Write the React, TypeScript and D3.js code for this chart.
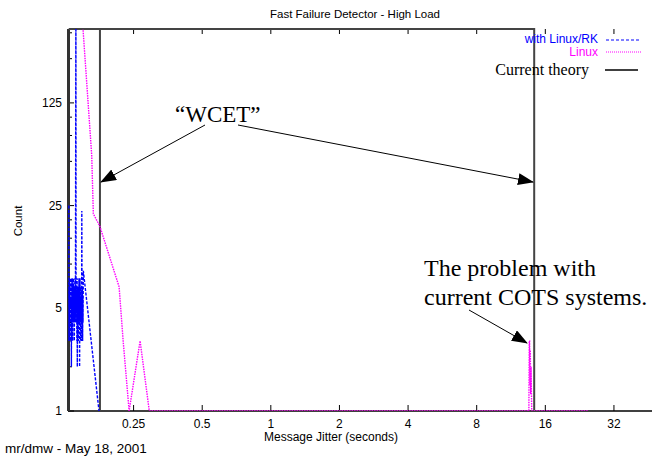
import * as d3 from 'd3';

// Linux/RK histogram (x = jitter in seconds, y = count)
const rkX = [0.1300, 0.1302, 0.1304, 0.1306, 0.1309, 0.1311, 0.1313, 0.1316, 0.1318, 0.1320, 0.1323, 0.1325, 0.1327, 0.1330, 0.1332, 0.1334, 0.1337, 0.1339, 0.1341, 0.1344, 0.1346, 0.1348, 0.1351, 0.1353, 0.1355, 0.1358, 0.1360, 0.1362, 0.1365, 0.1367, 0.1369, 0.1372, 0.1374, 0.1377, 0.1380, 0.1383, 0.1386, 0.1390, 0.1396, 0.1398, 0.1401, 0.1404, 0.1407, 0.1410, 0.1413, 0.1416, 0.1419, 0.1422, 0.1425, 0.1428, 0.1431, 0.1434, 0.1437, 0.1440, 0.1443, 0.1446, 0.1449, 0.1452, 0.1455, 0.1458, 0.1461, 0.1464, 0.1467, 0.1470, 0.1473, 0.1476, 0.1479, 0.1482, 0.1485, 0.1488, 0.1491, 0.1494, 0.1497, 0.1500, 0.1505, 0.1763];
const rkY = [25, 3, 7, 4, 8, 5, 6, 4, 7, 3, 6, 5, 8, 4, 6, 2, 7, 4, 5, 8, 4, 6, 3, 7, 5, 6, 4, 8, 5, 7, 4, 6, 3, 7, 5, 8, 4, 6, 600, 5, 7, 4, 6, 3, 8, 2, 5, 7, 4, 6, 3, 7, 4, 8, 5, 6, 2, 5, 8, 4, 6, 3, 7, 5, 4, 6, 3, 23, 5, 4, 7, 3, 6, 4, 9, 1];

// plain Linux histogram
const linuxX = [0.1473, 0.1638, 0.1665, 0.178, 0.216, 0.225, 0.239, 0.267, 0.293, 13.55, 13.6, 13.65, 13.7, 13.75, 13.8, 13.85, 13.9, 13.95, 24.7];
const linuxY = [600, 55, 22, 18, 7, 3, 1, 3, 1, 1, 3, 3, 1.5, 2.6, 1.3, 2, 1.4, 1, 1];

// "current theory" WCET boxes
const theoryFrom = [0.13, 0.13];
const theoryTo = [0.178, 14.3];
const theoryTop = 398;

const xTicks = [0.25, 0.5, 1, 2, 4, 8, 16, 32];
const xTickLabels = ['0.25', '0.5', '1', '2', '4', '8', '16', '32'];
const yTicks = [1, 5, 25, 125];
const yMinor = [2, 3, 4, 10, 15, 20, 50, 75, 100, 250, 375];

const W = 652;
const H = 458;
const sans = 'Liberation Sans, Arial, Helvetica, sans-serif';
const serif = 'Liberation Serif, Times New Roman, serif';

export default function App() {
  const margin = { top: 29, right: 0, bottom: 47, left: 68 };
  const x = d3.scaleLog().base(2).domain([0.1289, 47]).range([margin.left, W - margin.right]);
  const y = d3.scaleLog().base(5).domain([1, 398]).range([H - margin.bottom, margin.top]);
  const y0 = y(1);
  const yTop = y(theoryTop);

  const line = d3.line<[number, number]>()
    .x((d) => x(d[0]))
    .y((d) => y(d[1]));

  const rk: [number, number][] = rkX.map((v, i) => [v, rkY[i]]);
  const linux: [number, number][] = linuxX.map((v, i) => [v, linuxY[i]]);

  return (
    <svg width={W} height={H} style={{ position: 'absolute', left: 0, top: 0, background: '#fff' }}>
      <defs>
        <clipPath id="plot">
          <rect x={margin.left} y={margin.top} width={W - margin.left} height={y0 - margin.top} />
        </clipPath>
        <marker id="arrow" markerUnits="userSpaceOnUse" markerWidth="16" markerHeight="12"
          refX="15" refY="6" orient="auto">
          <path d="M0,0 L16,6 L0,12 Z" fill="#000" />
        </marker>
      </defs>

      {/* title */}
      <text x={355} y={18} textAnchor="middle" fontFamily={sans} fontSize={11.5}>
        Fast Failure Detector - High Load
      </text>

      {/* y ticks */}
      {yTicks.map((t) => (
        <g key={'yt' + t}>
          <line x1={margin.left} x2={margin.left + 6} y1={y(t)} y2={y(t)} stroke="#000" />
          <text x={62} y={y(t) + 4} textAnchor="end" fontFamily={sans} fontSize={12}>{t}</text>
        </g>
      ))}
      {yMinor.map((t) => (
        <line key={'ym' + t} x1={margin.left} x2={margin.left + 4} y1={y(t)} y2={y(t)} stroke="#000" />
      ))}

      {/* x ticks, mirrored on top */}
      {xTicks.map((t, i) => (
        <g key={'xt' + t}>
          <line x1={x(t)} x2={x(t)} y1={y0} y2={y0 - 6} stroke="#000" />
          <line x1={x(t)} x2={x(t)} y1={margin.top} y2={margin.top + 5} stroke="#000" />
          <text x={x(t)} y={y0 + 17} textAnchor="middle" fontFamily={sans} fontSize={12}>{xTickLabels[i]}</text>
        </g>
      ))}

      {/* axes */}
      <line x1={margin.left} x2={W} y1={y0} y2={y0} stroke="#000" strokeWidth={1.5} />
      <line x1={margin.left + 0.5} x2={margin.left + 0.5} y1={margin.top} y2={y0} stroke="#333" strokeWidth={3} />

      {/* current theory boxes */}
      {theoryFrom.map((f, i) => (
        <path key={'th' + i}
          d={`M${x(f)},${yTop} H${x(theoryTo[i])} V${y0}`}
          fill="none" stroke="#444" strokeWidth={2} />
      ))}

      <g clipPath="url(#plot)">
        <path d={line(rk) ?? ''} fill="none" stroke="#0000ff" strokeWidth={1.4} strokeDasharray="3,1.5" />
        <path d={line(linux) ?? ''} fill="none" stroke="#ff00ff" strokeWidth={1.4} strokeDasharray="1.5,1" />
      </g>

      {/* axis labels */}
      <text transform={`translate(22,221) rotate(-90)`} textAnchor="middle" fontFamily={sans} fontSize={11.5}>Count</text>
      <text x={331} y={441} textAnchor="middle" fontFamily={sans} fontSize={12}>Message Jitter (seconds)</text>
      <text x={5} y={453} fontFamily={sans} fontSize={13.5}>mr/dmw - May 18, 2001</text>

      {/* legend */}
      <text x={598} y={43} textAnchor="end" fontFamily={sans} fontSize={12} fill="#0000ff">with Linux/RK</text>
      <line x1={606} x2={641} y1={40} y2={40} stroke="#0000ff" strokeDasharray="3,2" />
      <text x={598} y={56} textAnchor="end" fontFamily={sans} fontSize={12} fill="#ff00ff">Linux</text>
      <line x1={606} x2={642} y1={52} y2={52} stroke="#ff00ff" strokeDasharray="1,1" />
      <text x={589} y={75} textAnchor="end" fontFamily={serif} fontSize={16}>Current theory</text>
      <line x1={605} x2={638} y1={70} y2={70} stroke="#000" strokeWidth={1.5} />

      {/* annotations */}
      <text x={175} y={122} fontFamily={serif} fontSize={23}>“WCET”</text>
      <line x1={205} y1={125} x2={101} y2={182} stroke="#000" markerEnd="url(#arrow)" />
      <line x1={238} y1={125} x2={533} y2={182} stroke="#000" markerEnd="url(#arrow)" />
      <text x={424} y={276} fontFamily={serif} fontSize={24}>The problem with</text>
      <text x={424} y={305} fontFamily={serif} fontSize={24}>current COTS systems.</text>
      <line x1={469} y1={310} x2={527} y2={343} stroke="#000" markerEnd="url(#arrow)" />
    </svg>
  );
}
